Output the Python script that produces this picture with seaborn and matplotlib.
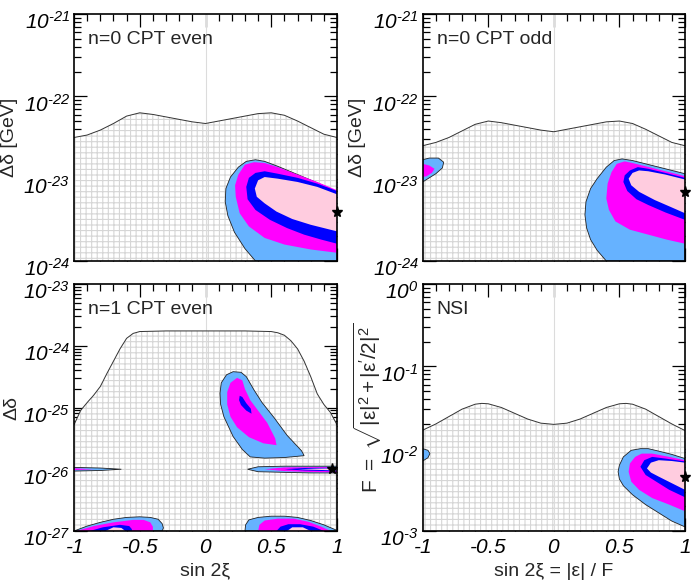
import numpy as np
import pandas as pd
import matplotlib
matplotlib.use("Agg")
import matplotlib.pyplot as plt
import matplotlib.transforms as mtransforms
import seaborn as sns
from matplotlib.ticker import FixedLocator, LogLocator, FuncFormatter, NullFormatter, FixedFormatter

# ---------------- data ----------------
# exclusion boundaries: x = sin 2xi, y = log10 of the bound
P1_BOUND_X = [-1, -0.9, -0.8, -0.7, -0.6, -0.5, -0.4, -0.3, -0.2, -0.1, 0, 0.1, 0.2, 0.3, 0.4, 0.5, 0.6, 0.7, 0.8, 0.9, 1]
P1_BOUND_LOG = [-22.50, -22.47, -22.41, -22.33, -22.24, -22.20, -22.22, -22.25, -22.28, -22.31, -22.33,
                -22.30, -22.27, -22.24, -22.21, -22.20, -22.23, -22.30, -22.38, -22.46, -22.50]
P2_BOUND_X = P1_BOUND_X
P2_BOUND_LOG = [-22.60, -22.56, -22.50, -22.42, -22.34, -22.30, -22.32, -22.35, -22.38, -22.41, -22.43,
                -22.40, -22.37, -22.34, -22.31, -22.30, -22.33, -22.40, -22.48, -22.56, -22.60]
P3_BOUND_X = [-1, -0.95, -0.9, -0.85, -0.8, -0.75, -0.7, -0.65, -0.6, -0.55, -0.5, -0.3, 0, 0.3, 0.5,
              0.55, 0.6, 0.65, 0.7, 0.75, 0.8, 0.85, 0.9, 0.95, 1]
P3_BOUND_LOG = [-25.28, -25.05, -24.92, -24.80, -24.66, -24.45, -24.25, -24.05, -23.88, -23.80, -23.77,
                -23.76, -23.76, -23.76, -23.77, -23.79, -23.83, -23.92, -24.05, -24.25, -24.50, -24.78,
                -24.95, -25.08, -25.28]
P4_BOUND_X = [-1, -0.9, -0.8, -0.7, -0.6, -0.55, -0.5, -0.4, -0.3, -0.2, -0.1, 0, 0.1, 0.2, 0.3, 0.4,
              0.5, 0.55, 0.6, 0.7, 0.8, 0.9, 1]
P4_BOUND_LOG = [-1.775, -1.70, -1.61, -1.52, -1.46, -1.45, -1.455, -1.50, -1.57, -1.64, -1.69, -1.705,
                -1.69, -1.64, -1.57, -1.50, -1.455, -1.45, -1.46, -1.52, -1.61, -1.70, -1.78]

# allowed regions (x, log10 y); levels: outer (light blue), magenta, blue, pink
P1_OUTER = [(0.38, -24.0), (0.30, -23.85), (0.22, -23.65), (0.17, -23.45), (0.15, -23.28), (0.155, -23.12),
            (0.19, -22.98), (0.25, -22.86), (0.31, -22.79), (0.38, -22.77), (0.45, -22.79), (0.55, -22.85),
            (0.7, -22.95), (0.85, -23.05), (1.0, -23.16), (1.0, -24.0)]
P1_MAG = [(0.23, -23.22), (0.26, -23.42), (0.33, -23.58), (0.45, -23.72), (0.6, -23.80), (0.8, -23.86),
          (1.0, -23.90), (1.0, -23.14), (0.85, -23.04), (0.7, -22.95), (0.55, -22.86), (0.45, -22.81),
          (0.37, -22.80), (0.30, -22.83), (0.25, -22.95), (0.225, -23.08)]
P1_BLUE = [(0.31, -23.1), (0.32, -23.25), (0.38, -23.38), (0.49, -23.50), (0.62, -23.60), (0.75, -23.68),
           (0.88, -23.74), (1.0, -23.79), (1.0, -23.15), (0.85, -23.06), (0.7, -22.99), (0.55, -22.94),
           (0.45, -22.91), (0.38, -22.93), (0.33, -22.99)]
P1_PINK = [(0.375, -23.12), (0.39, -23.22), (0.45, -23.30), (0.54, -23.40), (0.66, -23.49), (0.8, -23.56),
           (1.0, -23.64), (1.0, -23.19), (0.85, -23.10), (0.7, -23.04), (0.55, -23.0), (0.45, -22.98),
           (0.40, -23.02)]
P1_STAR = (1.0, -23.41)

P2_OUTER = [(0.40, -24.0), (0.33, -23.87), (0.28, -23.74), (0.25, -23.60), (0.237, -23.44), (0.245, -23.28),
            (0.28, -23.12), (0.33, -23.0), (0.40, -22.86), (0.46, -22.78), (0.52, -22.76), (0.6, -22.78),
            (0.7, -22.82), (0.85, -22.88), (1.0, -22.94), (1.0, -24.0)]
P2_MAG = [(0.40, -23.24), (0.42, -23.38), (0.47, -23.52), (0.58, -23.62), (0.72, -23.68), (0.86, -23.74),
          (1.0, -23.79), (1.0, -22.97), (0.85, -22.91), (0.7, -22.85), (0.6, -22.81), (0.54, -22.79),
          (0.48, -22.82), (0.44, -22.92), (0.41, -23.06)]
P2_BLUE = [(0.53, -23.04), (0.56, -23.15), (0.63, -23.25), (0.72, -23.32), (0.85, -23.41), (1.0, -23.50),
           (1.0, -22.99), (0.85, -22.93), (0.72, -22.88), (0.64, -22.86), (0.58, -22.90), (0.54, -22.96)]
P2_PINK = [(0.57, -23.0), (0.59, -23.08), (0.65, -23.16), (0.77, -23.26), (0.9, -23.35), (1.0, -23.42),
           (1.0, -23.01), (0.85, -22.95), (0.72, -22.91), (0.65, -22.90), (0.60, -22.93)]
P2_SMALL_OUTER = [(-1, -22.77), (-0.95, -22.75), (-0.88, -22.75), (-0.84, -22.80), (-0.85, -22.87),
                  (-0.9, -22.94), (-0.96, -23.0), (-1, -23.04)]
P2_SMALL_MAG = [(-1, -22.82), (-0.95, -22.84), (-0.91, -22.88), (-0.93, -22.93), (-0.97, -22.97), (-1, -22.98)]
P2_STAR = (1.0, -23.16)

P3_MID_OUTER = [(0.21, -24.42), (0.16, -24.47), (0.12, -24.6), (0.11, -24.77), (0.115, -24.95), (0.14, -25.15),
                (0.21, -25.47), (0.28, -25.68), (0.34, -25.80), (0.45, -25.82), (0.6, -25.81), (0.75, -25.78),
                (0.73, -25.70), (0.62, -25.45), (0.52, -25.16), (0.43, -24.92), (0.37, -24.72), (0.31, -24.50),
                (0.27, -24.43)]
P3_MID_MAG = [(0.24, -24.52), (0.19, -24.6), (0.165, -24.75), (0.165, -24.95), (0.19, -25.15), (0.24, -25.32),
              (0.33, -25.48), (0.44, -25.58), (0.54, -25.61), (0.53, -25.50), (0.47, -25.25), (0.40, -25.05),
              (0.34, -24.88), (0.30, -24.70), (0.28, -24.56)]
P3_MID_BLUE = [(0.26, -24.81), (0.255, -24.88), (0.27, -24.96), (0.31, -25.05), (0.35, -25.10), (0.345, -25.02),
               (0.31, -24.93), (0.28, -24.83)]
P3_LINE_OUTER = [(0.32, -26.0), (0.4, -25.96), (0.6, -25.95), (0.8, -25.95), (1.0, -25.95), (1.0, -26.06),
                 (0.8, -26.06), (0.6, -26.05), (0.4, -26.04)]
P3_LINE_MAG = [(0.45, -26.0), (0.6, -25.97), (0.8, -25.965), (1.0, -25.965), (1.0, -26.05), (0.8, -26.045),
               (0.6, -26.03)]
P3_LINE_BLUE = [(0.6, -26.0), (0.75, -25.98), (1.0, -25.975), (1.0, -26.035), (0.75, -26.02)]
P3_LINE_PINK = [(0.7, -26.0), (0.85, -25.99), (1.0, -25.985), (1.0, -26.02), (0.85, -26.01)]
P3_LEFTLINE_OUTER = [(-1, -25.97), (-0.8, -25.98), (-0.64, -26.0), (-0.8, -26.02), (-1, -26.03)]
P3_LEFTLINE_MAG = [(-1, -25.985), (-0.85, -26.0), (-1, -26.015)]
P3_BL_OUTER = [(-1, -27.0), (-0.9, -26.92), (-0.8, -26.86), (-0.7, -26.81), (-0.6, -26.78), (-0.5, -26.77),
               (-0.42, -26.78), (-0.36, -26.81), (-0.33, -26.88), (-0.32, -26.95), (-0.33, -27.0)]
P3_BL_MAG = [(-0.98, -27.0), (-0.85, -26.92), (-0.7, -26.86), (-0.55, -26.82), (-0.47, -26.82), (-0.42, -26.86),
             (-0.40, -26.93), (-0.40, -27.0)]
P3_BL_BLUE = [(-0.88, -27.0), (-0.78, -26.94), (-0.65, -26.9), (-0.58, -26.92), (-0.56, -26.97), (-0.56, -27.0)]
P3_BL_PINK = [(-0.76, -27.0), (-0.70, -26.94), (-0.64, -26.95), (-0.61, -27.0)]
P3_BR_OUTER = [(0.30, -27.0), (0.305, -26.9), (0.33, -26.82), (0.4, -26.78), (0.5, -26.76), (0.6, -26.76),
               (0.7, -26.78), (0.8, -26.83), (0.9, -26.9), (1.0, -26.99), (1.0, -27.0)]
P3_BR_MAG = [(0.40, -27.0), (0.41, -26.90), (0.45, -26.83), (0.55, -26.80), (0.67, -26.80), (0.78, -26.85),
             (0.88, -26.93), (0.95, -27.0)]
P3_BR_BLUE = [(0.54, -27.0), (0.57, -26.93), (0.63, -26.89), (0.72, -26.89), (0.82, -26.93), (0.90, -27.0)]
P3_BR_PINK = [(0.62, -27.0), (0.66, -26.94), (0.74, -26.94), (0.80, -27.0)]
P3_STAR = (0.96, -26.0)

P4_OUTER = [(0.49, -2.28), (0.50, -2.20), (0.53, -2.10), (0.59, -2.02), (0.66, -2.0), (0.72, -2.0), (0.8, -2.03),
            (0.9, -2.07), (1.0, -2.12), (1.0, -2.95), (0.9, -2.88), (0.8, -2.78), (0.7, -2.68), (0.6, -2.56),
            (0.53, -2.45), (0.50, -2.37)]
P4_MAG = [(0.57, -2.28), (0.58, -2.18), (0.62, -2.10), (0.67, -2.06), (0.75, -2.06), (0.88, -2.10), (1.0, -2.14),
          (1.0, -2.76), (0.88, -2.68), (0.75, -2.60), (0.65, -2.50), (0.59, -2.40)]
P4_BLUE = [(0.66, -2.22), (0.69, -2.14), (0.75, -2.10), (0.85, -2.12), (1.0, -2.155), (1.0, -2.59), (0.88, -2.50),
           (0.78, -2.40), (0.70, -2.32)]
P4_PINK = [(0.71, -2.24), (0.74, -2.17), (0.80, -2.14), (0.9, -2.15), (1.0, -2.17), (1.0, -2.50), (0.9, -2.42),
           (0.8, -2.34), (0.74, -2.29)]
P4_SMALL_OUTER = [(-1, -2.0), (-0.96, -2.02), (-0.945, -2.06), (-0.96, -2.11), (-1, -2.15)]
P4_STAR = (1.0, -2.34)

PANEL_LABELS = ["n=0 CPT even", "n=0 CPT odd", "n=1 CPT even", "NSI"]
YLABELS = ["Δδ [GeV]", "Δδ [GeV]", "Δδ",
           r"$\mathsf{F\ =\ \sqrt{|\epsilon|^2 + |\epsilon'/2|^2}}$"]
XLABELS = ["", "", "sin 2ξ", "sin 2ξ = |ε| / F"]
YLIMS_LOG = [(-24, -21), (-24, -21), (-27, -23), (-3, 0)]
XTICKS = [-1, -0.5, 0, 0.5, 1]
XTICKLABELS = ["-1", "-0.5", "0", "0.5", "1"]

C_OUTER = "#66b2ff"
C_MAG = "#ff00ff"
C_BLUE = "#0000ff"
C_PINK = "#ffccdf"

# ---------------- style ----------------
sns.set_theme(style="ticks")
plt.rcParams.update({
    "font.family": ["Liberation Sans", "DejaVu Sans"],
    "mathtext.fontset": "custom",
    "mathtext.rm": "Liberation Sans:italic",
    "mathtext.it": "Liberation Sans:italic",
    "mathtext.sf": "Liberation Sans",
    "hatch.linewidth": 0.8,
    "hatch.color": "#d6d6d6",
})

fig = plt.figure(figsize=(6.92, 5.82), dpi=100)
W, H = 692.0, 582.0
boxes = [(74, 14, 337, 261), (422.7, 14, 685, 261), (74, 284, 337, 531), (422.7, 284, 685, 531)]
axes = [fig.add_axes([l / W, 1 - b / H, (r - l) / W, (b - t) / H]) for (l, t, r, b) in boxes]

bounds = [(P1_BOUND_X, P1_BOUND_LOG), (P2_BOUND_X, P2_BOUND_LOG), (P3_BOUND_X, P3_BOUND_LOG), (P4_BOUND_X, P4_BOUND_LOG)]
regions = [
    [[P1_OUTER, P1_MAG, P1_BLUE, P1_PINK]],
    [[P2_OUTER, P2_MAG, P2_BLUE, P2_PINK], [P2_SMALL_OUTER, P2_SMALL_MAG]],
    [[P3_MID_OUTER, P3_MID_MAG, P3_MID_BLUE], [P3_LINE_OUTER, P3_LINE_MAG, P3_LINE_BLUE, P3_LINE_PINK],
     [P3_LEFTLINE_OUTER, P3_LEFTLINE_MAG], [P3_BL_OUTER, P3_BL_MAG, P3_BL_BLUE, P3_BL_PINK],
     [P3_BR_OUTER, P3_BR_MAG, P3_BR_BLUE, P3_BR_PINK]],
    [[P4_OUTER, P4_MAG, P4_BLUE, P4_PINK], [P4_SMALL_OUTER]],
]
stars = [P1_STAR, P2_STAR, P3_STAR, P4_STAR]
level_colors = [C_OUTER, C_MAG, C_BLUE, C_PINK]
ylabel_x = [-0.212, -0.218, -0.203, -0.147]
ylabel_size = [14, 14, 14, 15]


def ylab(v, pos):
    e = int(round(np.log10(v)))
    if e < 0:
        return r"$10^{\text{-}%d}$" % (-e)
    return r"$10^{%d}$" % e


down = mtransforms.ScaledTranslation(0, -4.5 / 72.0, fig.dpi_scale_trans)

for i, ax in enumerate(axes):
    lo, hi = YLIMS_LOG[i]
    ax.set_yscale("log")
    ax.set_xlim(-1, 1)
    ax.set_ylim(10.0 ** lo, 10.0 ** hi)

    bx, by = bounds[i]
    df = pd.DataFrame({"x": bx, "y": 10.0 ** np.array(by)})
    ax.fill_between(df["x"], 10.0 ** lo, df["y"], facecolor="white", edgecolor="#d6d6d6",
                    hatch="+++", linewidth=0, zorder=1)
    ax.axvline(0, color="#dcdcdc", lw=0.8, zorder=1.5)
    sns.lineplot(data=df, x="x", y="y", ax=ax, color="#333333", lw=0.7, zorder=2, sort=False)

    for group in regions[i]:
        for k, poly in enumerate(group):
            xs = [p[0] for p in poly]
            ys = [10.0 ** p[1] for p in poly]
            if k == 0:
                ax.fill(xs, ys, facecolor=level_colors[k], edgecolor="#222222", lw=0.6, zorder=3)
            else:
                ax.fill(xs, ys, facecolor=level_colors[k], edgecolor="none", lw=0, zorder=3 + k * 0.1)

    sx, sy = stars[i]
    ax.plot([sx], [10.0 ** sy], marker="*", color="black", ms=8, clip_on=False, zorder=6, ls="none")

    # ticks
    ax.xaxis.set_major_locator(FixedLocator(XTICKS))
    ax.xaxis.set_minor_locator(FixedLocator(np.round(np.arange(-1, 1.01, 0.1), 2)))
    ax.yaxis.set_major_locator(LogLocator(base=10, numticks=10))
    ax.yaxis.set_minor_locator(LogLocator(base=10, subs=np.arange(2, 10), numticks=20))
    ax.yaxis.set_minor_formatter(NullFormatter())
    ax.yaxis.set_major_formatter(FuncFormatter(ylab))
    if i >= 2:
        ax.xaxis.set_major_formatter(FixedFormatter([r"$\text{%s}$" % s for s in XTICKLABELS]))
    else:
        ax.xaxis.set_major_formatter(NullFormatter())
    ax.set_xlabel(XLABELS[i], fontsize=14)
    ax.tick_params(which="both", direction="in", top=True, right=True, colors="black", width=0.9)
    ax.tick_params(which="major", length=9.5, labelsize=15)
    ax.tick_params(axis="y", which="major", pad=3)
    ax.tick_params(axis="x", which="major", pad=5)
    ax.tick_params(which="minor", length=5)
    for lab in ax.get_yticklabels():
        lab.set_transform(lab.get_transform() + down)
    for s in ax.spines.values():
        s.set_linewidth(1.2)
        s.set_color("black")
        s.set_zorder(7)
    ax.set_ylabel(YLABELS[i], fontsize=ylabel_size[i])
    ax.yaxis.set_label_coords(ylabel_x[i], 0.5)
    ax.text(0.053, 0.93, PANEL_LABELS[i], transform=ax.transAxes, fontsize=14, va="top", ha="left", zorder=8)

fig.savefig("out.png", dpi=100)
